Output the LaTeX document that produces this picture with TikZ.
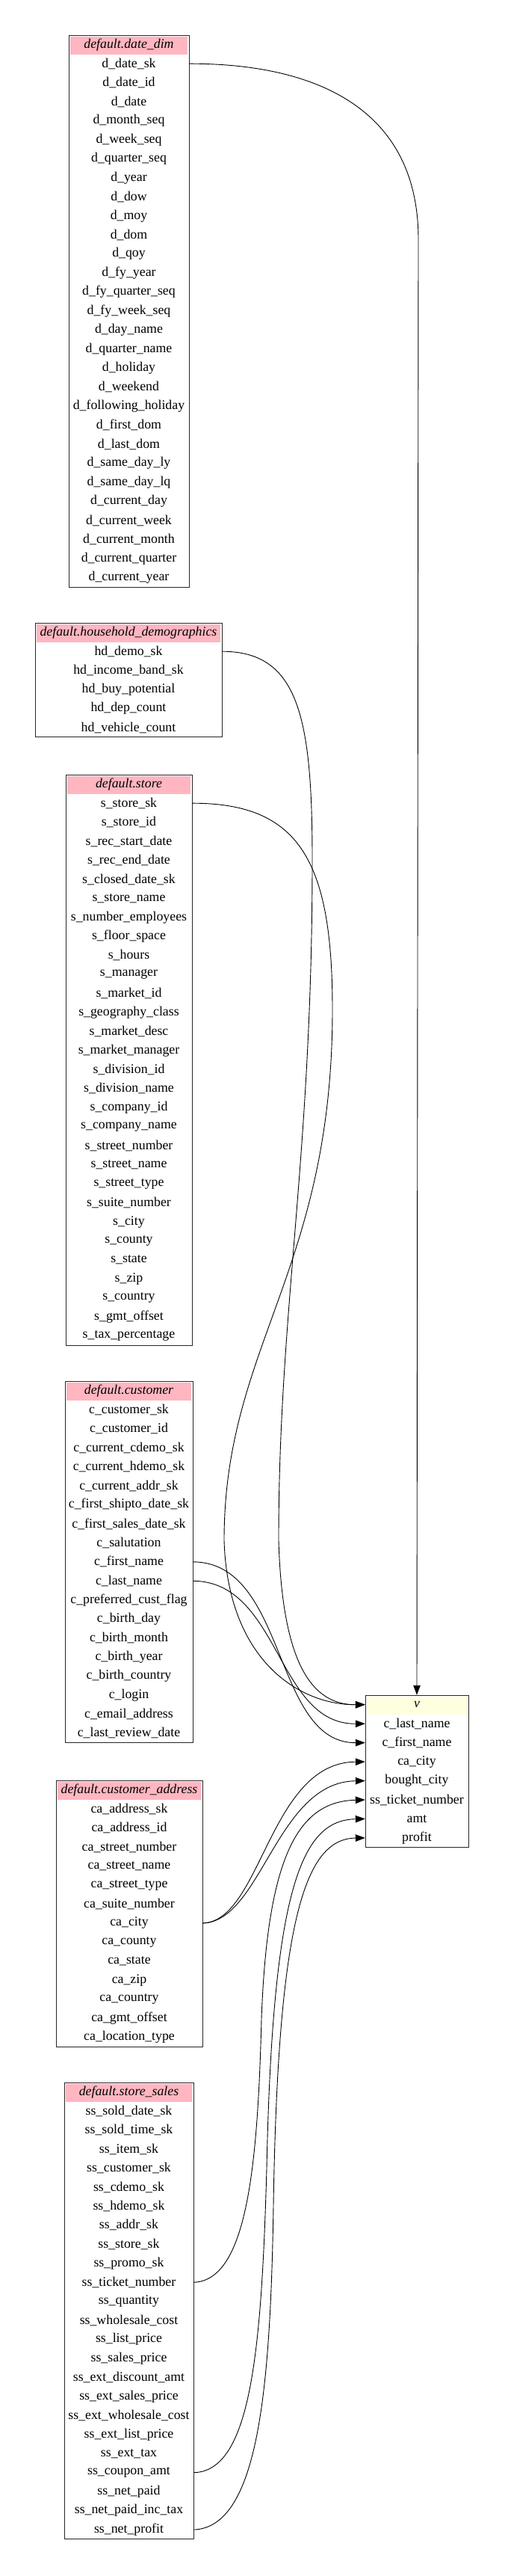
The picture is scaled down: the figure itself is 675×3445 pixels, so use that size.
\documentclass[tikz,border=0pt]{standalone}
\usepackage{fontspec}
\setmainfont{Liberation Serif}
\usepackage{tikz}
\usetikzlibrary{arrows.meta, positioning}
\definecolor{hdpink}{HTML}{FFB6C1}
\definecolor{hdyellow}{HTML}{FFFFE0}

\begin{document}
\begin{tikzpicture}[x=1pt, y=-1pt,
    every node/.style={font=\fontsize{17.8}{20}\selectfont},
    tblbox/.style={draw=black!85, line width=1pt},
    tblhead/.style={inner sep=0pt, minimum height=25.45pt, font=\fontsize{17.8}{20}\selectfont\itshape},
    tblrow/.style={inner sep=0pt, minimum height=25.45pt},
    fk/.style={line width=0.9pt, -{Triangle[length=13pt,width=9.5pt]}}]
        \useasboundingbox (0,0) rectangle (675,3445);

        % date_dim
        \fill[hdpink] (94,49) rectangle (251,73);
        \draw[tblbox] (92,47) rectangle (253,785.05);
        \node[tblhead, minimum width=161pt] (dd-0) at (172.5,59.7) {default.date\_dim};
        \foreach \f [count=\i] in {d\_date\_sk, d\_date\_id, d\_date, d\_month\_seq, d\_week\_seq,
            d\_quarter\_seq, d\_year, d\_dow, d\_moy, d\_dom, d\_qoy, d\_fy\_year, d\_fy\_quarter\_seq,
            d\_fy\_week\_seq, d\_day\_name, d\_quarter\_name, d\_holiday, d\_weekend,
            d\_following\_holiday, d\_first\_dom, d\_last\_dom, d\_same\_day\_ly, d\_same\_day\_lq,
            d\_current\_day, d\_current\_week, d\_current\_month, d\_current\_quarter, d\_current\_year}
            \node[tblrow, minimum width=161pt] (dd-\i) at (172.5,{47+(\i+0.5)*25.45}) {\f};

        % household_demographics
        \fill[hdpink] (49,835) rectangle (295,859);
        \draw[tblbox] (47,833) rectangle (297,985.7);
        \node[tblhead, minimum width=250pt] (hd-0) at (172,845.7) {default.household\_demographics};
        \foreach \f [count=\i] in {hd\_demo\_sk, hd\_income\_band\_sk, hd\_buy\_potential,
            hd\_dep\_count, hd\_vehicle\_count}
            \node[tblrow, minimum width=250pt] (hd-\i) at (172,{833+(\i+0.5)*25.45}) {\f};

        % store
        \fill[hdpink] (90,1038) rectangle (255,1062);
        \draw[tblbox] (88,1036) rectangle (257,1799.5);
        \node[tblhead, minimum width=169pt] (st-0) at (172.5,1048.7) {default.store};
        \foreach \f [count=\i] in {s\_store\_sk, s\_store\_id, s\_rec\_start\_date, s\_rec\_end\_date,
            s\_closed\_date\_sk, s\_store\_name, s\_number\_employees, s\_floor\_space, s\_hours,
            s\_manager, s\_market\_id, s\_geography\_class, s\_market\_desc, s\_market\_manager,
            s\_division\_id, s\_division\_name, s\_company\_id, s\_company\_name, s\_street\_number,
            s\_street\_name, s\_street\_type, s\_suite\_number, s\_city, s\_county, s\_state, s\_zip,
            s\_country, s\_gmt\_offset, s\_tax\_percentage}
            \node[tblrow, minimum width=169pt] (st-\i) at (172.5,{1036+(\i+0.5)*25.45}) {\f};

        % customer
        \fill[hdpink] (89,1849) rectangle (256,1873);
        \draw[tblbox] (87,1847) rectangle (258,2330.55);
        \node[tblhead, minimum width=171pt] (cu-0) at (172.5,1859.7) {default.customer};
        \foreach \f [count=\i] in {c\_customer\_sk, c\_customer\_id, c\_current\_cdemo\_sk,
            c\_current\_hdemo\_sk, c\_current\_addr\_sk, c\_first\_shipto\_date\_sk,
            c\_first\_sales\_date\_sk, c\_salutation, c\_first\_name, c\_last\_name,
            c\_preferred\_cust\_flag, c\_birth\_day, c\_birth\_month, c\_birth\_year,
            c\_birth\_country, c\_login, c\_email\_address, c\_last\_review\_date}
            \node[tblrow, minimum width=171pt] (cu-\i) at (172.5,{1847+(\i+0.5)*25.45}) {\f};

        % customer_address
        \fill[hdpink] (77,2383) rectangle (269,2407);
        \draw[tblbox] (75,2381) rectangle (271,2737.3);
        \node[tblhead, minimum width=196pt] (ca-0) at (173,2393.7) {default.customer\_address};
        \foreach \f [count=\i] in {ca\_address\_sk, ca\_address\_id, ca\_street\_number,
            ca\_street\_name, ca\_street\_type, ca\_suite\_number, ca\_city, ca\_county, ca\_state,
            ca\_zip, ca\_country, ca\_gmt\_offset, ca\_location\_type}
            \node[tblrow, minimum width=196pt] (ca-\i) at (173,{2381+(\i+0.5)*25.45}) {\f};

        % store_sales
        \fill[hdpink] (88,2787) rectangle (257,2811);
        \draw[tblbox] (86,2785) rectangle (259,3395.8);
        \node[tblhead, minimum width=173pt] (ss-0) at (172.5,2797.7) {default.store\_sales};
        \foreach \f [count=\i] in {ss\_sold\_date\_sk, ss\_sold\_time\_sk, ss\_item\_sk,
            ss\_customer\_sk, ss\_cdemo\_sk, ss\_hdemo\_sk, ss\_addr\_sk, ss\_store\_sk,
            ss\_promo\_sk, ss\_ticket\_number, ss\_quantity, ss\_wholesale\_cost, ss\_list\_price,
            ss\_sales\_price, ss\_ext\_discount\_amt, ss\_ext\_sales\_price, ss\_ext\_wholesale\_cost,
            ss\_ext\_list\_price, ss\_ext\_tax, ss\_coupon\_amt, ss\_net\_paid, ss\_net\_paid\_inc\_tax,
            ss\_net\_profit}
            \node[tblrow, minimum width=173pt] (ss-\i) at (172.5,{2785+(\i+0.5)*25.45}) {\f};

        % result view
        \fill[hdyellow] (491,2269) rectangle (625,2293);
        \draw[tblbox] (489,2267) rectangle (627,2470.6);
        \node[tblhead, minimum width=138pt] (v-0) at (558,2279.7) {v};
        \foreach \f [count=\i] in {c\_last\_name, c\_first\_name, ca\_city, bought\_city,
            ss\_ticket\_number, amt, profit}
            \node[tblrow, minimum width=138pt] (v-\i) at (558,{2267+(\i+0.5)*25.45}) {\f};

        % Lineage edges
        \draw[fk] (dd-1.east) .. controls (430,85) and (560,150) .. (560,320) -- (v-0.north);
        \draw[fk] (hd-1.east) .. controls (400,871) and (418,960) .. (418,1150)
            .. controls (418,1550) and (373,1750) .. (373,2060)
            .. controls (378,2230) and (420,2280) .. (v-0.west);
        \draw[fk] (st-1.east) .. controls (400,1074) and (445,1150) .. (445,1350)
            .. controls (445,1700) and (300,1800) .. (300,2060)
            .. controls (305,2220) and (400,2280) .. (v-0.west);
        \draw[fk] (cu-10.east) .. controls (375,2115) and (370,2306) .. (v-1.west);
        \draw[fk] (cu-9.east) .. controls (385,2089) and (365,2331) .. (v-2.west);
        \draw[fk] (ca-7.east) .. controls (350,2570) and (360,2357) .. (v-3.west);
        \draw[fk] (ca-7.east) .. controls (350,2570) and (370,2383) .. (v-4.west);
        \draw[fk] (ss-10.east) .. controls (330,3050) and (345,2900) .. (350,2700)
            .. controls (358,2480) and (400,2409) .. (v-5.west);
        \draw[fk] (ss-20.east) .. controls (335,3305) and (350,3150) .. (357,2900)
            .. controls (365,2520) and (405,2434) .. (v-6.west);
        \draw[fk] (ss-23.east) .. controls (345,3380) and (362,3200) .. (366,2950)
            .. controls (372,2560) and (410,2459) .. (v-7.west);
\end{tikzpicture}
\end{document}
